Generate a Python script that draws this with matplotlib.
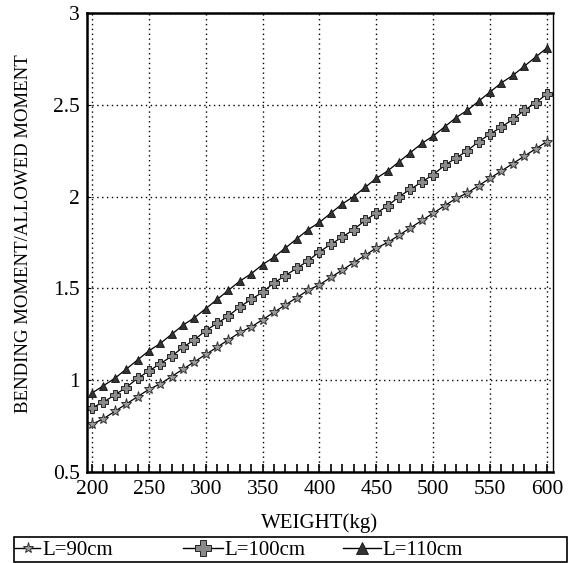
import numpy as np
import matplotlib.pyplot as plt
from matplotlib.ticker import MultipleLocator
from matplotlib.lines import Line2D
from matplotlib.patches import Rectangle

plt.rcParams['font.family'] = ['Liberation Serif', 'DejaVu Serif']

# weight in kg, one marker every 10 kg
weight = list(range(200, 601, 10))

# bending moment / allowed moment
l90 = [0.76, 0.79, 0.83, 0.87, 0.91, 0.95, 0.98, 1.02, 1.06, 1.10,
       1.14, 1.18, 1.22, 1.26, 1.29, 1.33, 1.37, 1.41, 1.45, 1.49,
       1.52, 1.56, 1.60, 1.64, 1.68, 1.72, 1.75, 1.79, 1.83, 1.87,
       1.91, 1.95, 1.99, 2.02, 2.06, 2.10, 2.14, 2.18, 2.22, 2.26, 2.30]
l100 = [0.85, 0.88, 0.92, 0.96, 1.01, 1.05, 1.09, 1.13, 1.18, 1.22,
        1.27, 1.31, 1.35, 1.40, 1.44, 1.48, 1.53, 1.57, 1.61, 1.65,
        1.70, 1.74, 1.78, 1.82, 1.87, 1.91, 1.95, 2.00, 2.04, 2.08,
        2.12, 2.17, 2.21, 2.25, 2.30, 2.34, 2.38, 2.42, 2.47, 2.51, 2.56]
l110 = [0.93, 0.97, 1.01, 1.06, 1.11, 1.16, 1.20, 1.25, 1.30, 1.34,
        1.39, 1.44, 1.49, 1.54, 1.58, 1.63, 1.67, 1.72, 1.77, 1.82,
        1.86, 1.91, 1.96, 2.00, 2.05, 2.10, 2.14, 2.19, 2.24, 2.29,
        2.33, 2.38, 2.43, 2.47, 2.52, 2.57, 2.62, 2.66, 2.71, 2.76, 2.81]

labels = ['L=90cm', 'L=100cm', 'L=110cm']

W, H = 571, 563
fig = plt.figure(figsize=(W / 100, H / 100), dpi=100)
ax = fig.add_axes([87 / W, 1 - 472 / H, (553 - 87) / W, (472 - 13) / H])

styles = [
    dict(marker='*', ms=8, mfc='#9a9a9a', mec='#333333', mew=0.7),
    dict(marker='P', ms=6.5, mfc='#8a8a8a', mec='#222222', mew=0.7),
    dict(marker='^', ms=5.5, mfc='#333333', mec='#111111', mew=0.6),
]
for ys, st, lab in zip([l90, l100, l110], styles, labels):
    ax.plot(weight, ys, color='black', lw=0.9, label=lab, **st)

ax.set_xlim(195.6, 605.3)
ax.set_ylim(0.5, 3.0)
ax.xaxis.set_major_locator(MultipleLocator(50))
ax.xaxis.set_minor_locator(MultipleLocator(10))
ax.yaxis.set_major_locator(MultipleLocator(0.5))
ax.yaxis.set_major_formatter(plt.FuncFormatter(lambda v, p: f'{v:g}'))

ax.grid(True, which='major', color='black', ls=(0, (1, 2.5)), lw=1.0)
ax.tick_params(axis='x', which='both', direction='in', length=6, width=1.2,
               labelsize=15.5, pad=6)
ax.tick_params(axis='y', which='major', direction='in', length=3,
               labelsize=15.5, pad=5)
for side in ['left', 'bottom', 'top']:
    ax.spines[side].set_linewidth(1.8)
ax.spines['right'].set_linewidth(1.0)

ax.set_xlabel('WEIGHT(kg)', fontsize=15, labelpad=10)
ax.set_ylabel('BENDING MOMENT/ALLOWED MOMENT', fontsize=13.5)
ax.yaxis.set_label_coords(-0.118, 0.52)

# legend box below the chart, entries placed like the original
fig.add_artist(Rectangle((14 / W, 1 - 562 / H), (567 - 14) / W, 25 / H,
                         transform=fig.transFigure, fill=False,
                         ec='black', lw=1.2))
leg_x = [15, 183, 343]
leg_len = [1.2, 1.9, 1.8]
leg_ms = [8, 12, 9]
for i in range(3):
    st = dict(styles[i])
    st['ms'] = leg_ms[i]
    h = Line2D([], [], color='black', lw=1.0, **st)
    fig.legend(handles=[h], labels=[labels[i]], loc='center left',
               bbox_to_anchor=(leg_x[i] / W, 1 - 550.5 / H), frameon=False,
               fontsize=15, borderpad=0, borderaxespad=0,
               handlelength=leg_len[i], handletextpad=0.1)

fig.savefig('out.png', dpi=100)
